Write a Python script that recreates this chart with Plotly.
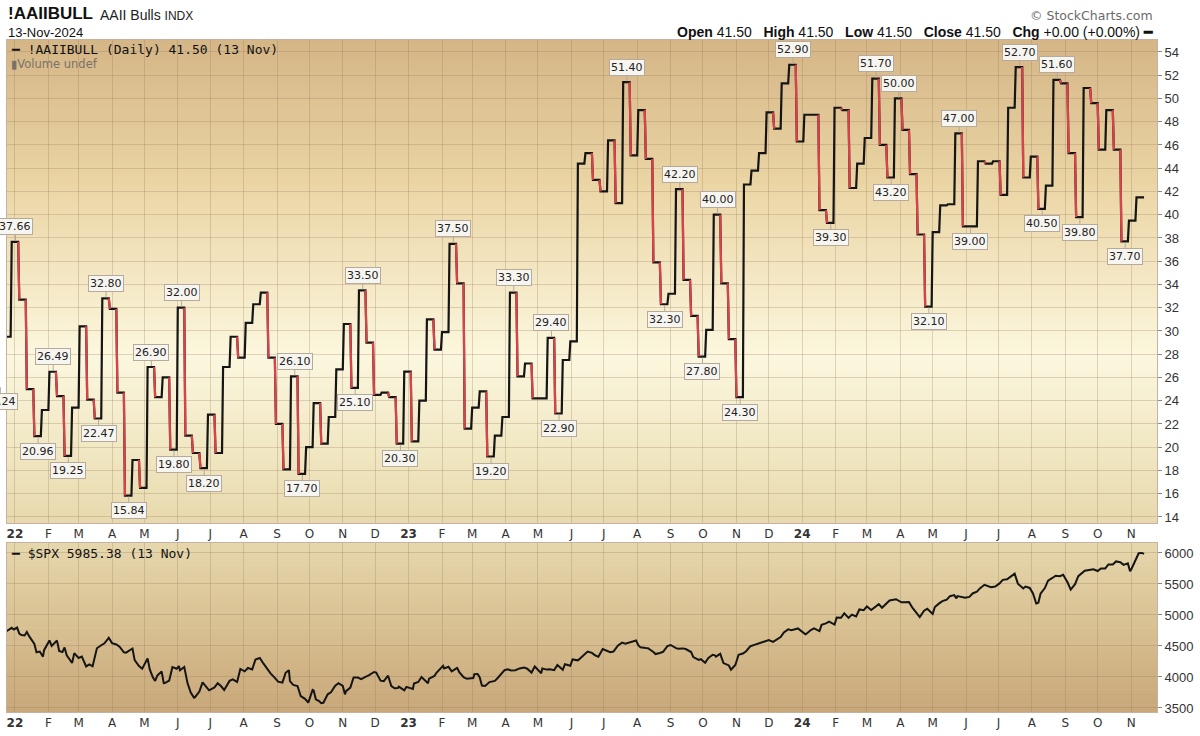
import plotly.graph_objects as go
import pandas as pd

# ---------------- data ----------------
aaii_start = "2021-12-15"          # first weekly reading (weekly, every 7 days)
aaii_last_day = "2024-11-13"
aaii_bull = [
    25.24, 29.5, 37.66, 32.7, 25.0, 20.96, 23.2, 26.49, 24.4, 19.25,
    23.4, 30.4, 24.1, 22.47, 32.80, 31.9, 24.7, 15.84, 18.9, 16.5,
    26.90, 24.3, 26.0, 19.80, 32.00, 21.0, 19.5, 18.20, 22.8, 19.5,
    26.9, 29.5, 27.7, 30.7, 32.3, 33.3, 27.7, 22.0, 18.1, 26.10,
    17.70, 20.0, 23.8, 20.3, 22.6, 26.7, 30.6, 25.10, 33.50, 29.0,
    24.5, 24.7, 24.3, 20.30, 26.5, 20.5, 24.0, 31.0, 28.4, 29.9,
    37.50, 34.1, 21.6, 23.4, 24.8, 19.20, 21.0, 22.6, 33.30, 26.1,
    27.2, 24.2, 24.2, 29.40, 22.90, 27.5, 29.1, 44.4, 45.3, 43.0,
    42.0, 46.4, 41.0, 51.40, 45.1, 49.0, 44.8, 35.9, 32.30, 33.2,
    42.20, 34.4, 31.3, 27.80, 30.1, 40.00, 34.1, 29.3, 24.30, 42.6,
    43.8, 45.3, 48.8, 47.4, 51.3, 52.90, 46.3, 48.6, 48.6, 40.4,
    39.30, 49.2, 49.0, 42.3, 44.4, 46.6, 51.70, 46.0, 43.20, 50.00,
    47.3, 43.5, 38.3, 32.10, 38.5, 40.8, 40.9, 47.00, 39.00, 39.0,
    44.6, 44.4, 44.6, 41.7, 49.2, 52.70, 43.2, 45.0, 40.50, 42.5,
    51.60, 51.3, 45.3, 39.80, 50.9, 49.6, 45.6, 49.0, 45.6, 37.70,
    39.5, 41.50,
]
# 1-based positions of the readings that carry a value label
labeled_points = [1, 3, 6, 8, 10, 14, 15, 18, 21, 24, 25, 28, 40, 41, 48, 49, 54,
                  61, 66, 69, 74, 75, 84, 89, 91, 94, 96, 99, 106, 111, 117, 119,
                  120, 124, 128, 129, 136, 139, 141, 144, 150]

spx_dates = [
    "2021-12-21", "2021-12-23", "2021-12-29", "2021-12-31", "2022-01-03", "2022-01-07",
    "2022-01-12", "2022-01-14", "2022-01-19", "2022-01-21", "2022-01-27", "2022-01-28",
    "2022-02-02", "2022-02-04", "2022-02-09", "2022-02-11", "2022-02-18", "2022-02-23",
    "2022-02-25", "2022-03-04", "2022-03-08", "2022-03-11", "2022-03-18", "2022-03-25",
    "2022-03-29", "2022-04-01", "2022-04-08", "2022-04-14", "2022-04-20", "2022-04-22",
    "2022-04-29", "2022-05-04", "2022-05-06", "2022-05-11", "2022-05-13", "2022-05-19",
    "2022-05-20", "2022-05-27", "2022-06-02", "2022-06-03", "2022-06-10", "2022-06-16",
    "2022-06-17", "2022-06-24", "2022-06-30", "2022-07-08", "2022-07-14", "2022-07-22",
    "2022-07-29", "2022-08-05", "2022-08-12", "2022-08-16", "2022-08-19", "2022-08-26",
    "2022-09-02", "2022-09-06", "2022-09-09", "2022-09-12", "2022-09-13", "2022-09-16",
    "2022-09-23", "2022-09-30", "2022-10-04", "2022-10-07", "2022-10-12", "2022-10-14",
    "2022-10-21", "2022-10-28", "2022-11-03", "2022-11-04", "2022-11-10", "2022-11-11",
    "2022-11-18", "2022-11-25", "2022-11-30", "2022-12-02", "2022-12-09", "2022-12-13",
    "2022-12-16", "2022-12-22", "2022-12-23", "2022-12-28", "2022-12-30",
    "2023-01-05", "2023-01-06", "2023-01-13", "2023-01-19", "2023-01-20", "2023-01-27",
    "2023-02-02", "2023-02-03", "2023-02-10", "2023-02-17", "2023-02-24", "2023-03-02",
    "2023-03-03", "2023-03-06", "2023-03-10", "2023-03-13", "2023-03-17", "2023-03-24",
    "2023-03-31", "2023-04-06", "2023-04-14", "2023-04-21", "2023-04-25", "2023-04-28",
    "2023-05-04", "2023-05-05", "2023-05-12", "2023-05-19", "2023-05-24", "2023-05-26",
    "2023-06-02", "2023-06-09", "2023-06-16", "2023-06-23", "2023-06-30", "2023-07-07",
    "2023-07-14", "2023-07-21", "2023-07-31", "2023-08-04", "2023-08-11", "2023-08-18",
    "2023-08-25", "2023-09-01", "2023-09-08", "2023-09-15", "2023-09-22", "2023-09-27",
    "2023-09-29", "2023-10-06", "2023-10-12", "2023-10-13", "2023-10-20", "2023-10-27",
    "2023-11-03", "2023-11-10", "2023-11-17", "2023-11-24", "2023-12-01", "2023-12-08",
    "2023-12-15", "2023-12-22", "2023-12-28",
    "2024-01-05", "2024-01-12", "2024-01-19", "2024-01-26", "2024-02-02", "2024-02-09",
    "2024-02-13", "2024-02-16", "2024-02-23", "2024-03-01", "2024-03-08", "2024-03-15",
    "2024-03-22", "2024-03-28", "2024-04-05", "2024-04-12", "2024-04-19", "2024-04-26",
    "2024-05-01", "2024-05-03", "2024-05-10", "2024-05-17", "2024-05-23", "2024-05-24",
    "2024-05-31", "2024-06-07", "2024-06-14", "2024-06-21", "2024-06-28", "2024-07-05",
    "2024-07-12", "2024-07-16", "2024-07-19", "2024-07-24", "2024-07-26", "2024-08-02",
    "2024-08-05", "2024-08-09", "2024-08-16", "2024-08-23", "2024-08-30", "2024-09-06",
    "2024-09-13", "2024-09-19", "2024-09-27", "2024-10-04", "2024-10-11", "2024-10-18",
    "2024-10-25", "2024-10-31", "2024-11-01", "2024-11-06", "2024-11-08", "2024-11-11",
    "2024-11-13",
]
spx_close = [
    4649, 4726, 4793, 4766, 4797, 4677,
    4726, 4663, 4533, 4398, 4327, 4432,
    4589, 4500, 4587, 4419, 4349, 4226,
    4385, 4329, 4170, 4204, 4463, 4543,
    4632, 4546, 4488, 4392, 4459, 4272,
    4132, 4300, 4123, 3935, 4023, 3900,
    3901, 4158, 4176, 4109, 3901, 3667,
    3675, 3912, 3785, 3899, 3790, 3962,
    4130, 4145, 4280, 4305, 4228, 4058,
    3924, 3909, 4067, 4110, 3932, 3873,
    3693, 3586, 3791, 3640, 3577, 3583,
    3752, 3901, 3720, 3771, 3956, 3993,
    3965, 4026, 4080, 4072, 3934, 4020,
    3852, 3822, 3845, 3783, 3840,
    3808, 3895, 3999, 3899, 3973, 4071,
    4180, 4136, 4090, 4079, 3970, 3982,
    4046, 4048, 3862, 3855, 3917, 3971,
    4109, 4105, 4138, 4133, 4071, 4169,
    4061, 4136, 4124, 4192, 4115, 4205,
    4282, 4299, 4410, 4348, 4450, 4399,
    4505, 4536, 4589, 4478, 4464, 4370,
    4406, 4516, 4457, 4450, 4320, 4274,
    4288, 4308, 4350, 4327, 4224, 4117,
    4358, 4415, 4514, 4559, 4595, 4604,
    4719, 4755, 4783,
    4697, 4784, 4840, 4891, 4959, 5027,
    4953, 5006, 5089, 5137, 5124, 5117,
    5234, 5254, 5204, 5123, 4967, 5100,
    5018, 5128, 5223, 5303, 5268, 5305,
    5278, 5347, 5432, 5465, 5460, 5567,
    5615, 5667, 5505, 5427, 5459, 5346,
    5186, 5344, 5554, 5634, 5648, 5408,
    5626, 5713, 5738, 5751, 5815, 5864,
    5808, 5705, 5729, 5929, 5996, 6001,
    5985.38,
]
# extra mid-week closes (fill in the daily wiggle)
spx_mid_dates = [
    "2022-01-05", "2022-01-10", "2022-01-24", "2022-02-14", "2022-02-16", "2022-03-01",
    "2022-03-14", "2022-03-22", "2022-04-05", "2022-04-12", "2022-04-26", "2022-05-09",
    "2022-05-17", "2022-05-24", "2022-05-31", "2022-06-07", "2022-06-13", "2022-06-21",
    "2022-07-05", "2022-07-11", "2022-07-19", "2022-07-26", "2022-08-02", "2022-08-09",
    "2022-08-23", "2022-08-30", "2022-09-20", "2022-09-27", "2022-10-05", "2022-10-10",
    "2022-10-18", "2022-10-25", "2022-11-01", "2022-11-08", "2022-11-15", "2022-11-22",
    "2022-12-06", "2022-12-19",
    "2023-01-03", "2023-01-10", "2023-01-25", "2023-02-07", "2023-02-15", "2023-02-21",
    "2023-03-08", "2023-03-22", "2023-04-03", "2023-04-10", "2023-04-18", "2023-05-09",
    "2023-05-16", "2023-05-31", "2023-06-07", "2023-06-13", "2023-06-20", "2023-06-26",
    "2023-07-10", "2023-07-18", "2023-07-26", "2023-08-02", "2023-08-09", "2023-08-16",
    "2023-08-22", "2023-08-29", "2023-09-06", "2023-09-12", "2023-09-20", "2023-10-03",
    "2023-10-10", "2023-10-17", "2023-10-25", "2023-10-31", "2023-11-07", "2023-11-14",
    "2023-12-05", "2023-12-12", "2023-12-19",
    "2024-01-04", "2024-01-09", "2024-01-17", "2024-01-23", "2024-01-31", "2024-02-06",
    "2024-02-20", "2024-02-27", "2024-03-05", "2024-03-12", "2024-03-19", "2024-04-02",
    "2024-04-09", "2024-04-15", "2024-04-23", "2024-05-07", "2024-05-14", "2024-05-21",
    "2024-06-04", "2024-06-11", "2024-06-18", "2024-06-24", "2024-07-02", "2024-07-09",
    "2024-07-30", "2024-08-07", "2024-08-13", "2024-08-20", "2024-08-27", "2024-09-03",
    "2024-09-10", "2024-09-24", "2024-10-01", "2024-10-08", "2024-10-15", "2024-10-22",
    "2024-10-29",
]
spx_mid_close = [
    4700, 4670, 4410, 4401, 4475, 4306,
    4173, 4512, 4525, 4397, 4175, 3991,
    4088, 3941, 4132, 4160, 3750, 3765,
    3831, 3854, 3937, 3921, 4091, 4122,
    4128, 3986, 3855, 3647, 3783, 3612,
    3720, 3859, 3856, 3828, 3991, 4003,
    3941, 3817,
    3824, 3919, 4016, 4164, 4147, 3997,
    3992, 3937, 4124, 4109, 4154, 4119,
    4110, 4180, 4268, 4369, 4389, 4328,
    4410, 4554, 4566, 4513, 4467, 4404,
    4388, 4497, 4465, 4461, 4402, 4229,
    4358, 4373, 4186, 4194, 4378, 4496,
    4567, 4643, 4768,
    4688, 4756, 4739, 4864, 4846, 4954,
    4975, 5078, 5079, 5175, 5178, 5205,
    5209, 5061, 5070, 5187, 5247, 5321,
    5291, 5375, 5487, 5448, 5509, 5577,
    5436, 5199, 5434, 5597, 5625, 5528,
    5496, 5732, 5709, 5751, 5815, 5851,
    5832,
]

month_letters = ["J", "F", "M", "A", "M", "J", "J", "A", "S", "O", "N", "D"]
aaii_ticks = list(range(14, 55, 2))
spx_ticks = [3500, 4000, 4500, 5000, 5500, 6000]

# ---------------- geometry helpers ----------------
W, H = 1200, 736
ML, MR, MT, MB = 6, 41, 40, 24
PW, PH = W - ML - MR, H - MT - MB
X_RANGE = [pd.Timestamp("2021-12-24 15:00"), pd.Timestamp("2024-11-25")]
PX_PER_DAY = PW / ((X_RANGE[1] - X_RANGE[0]).total_seconds() / 86400)


def px(x):
    return (x - ML) / PW


def py(y):
    return (H - MB - y) / PH


TOP_DOM = [py(523), 1.0]
BOT_DOM = [0.0, py(543)]

RED = "#d8434b"
BLACK = "#151515"
DAY = pd.Timedelta(days=1)

# ---------------- AAII step path ----------------
dates = pd.date_range(aaii_start, periods=len(aaii_bull), freq="7D")
n = len(aaii_bull)
path_x, path_y = [], []
red_x, red_y = [], []
for i, v in enumerate(aaii_bull):
    end = dates[i + 1] - DAY if i + 1 < n else pd.Timestamp(aaii_last_day)
    path_x += [dates[i], end]
    path_y += [v, v]
    if i + 1 < n and aaii_bull[i + 1] < v:
        red_x += [end, dates[i + 1], None]
        red_y += [v, aaii_bull[i + 1], None]

# ---------------- SPX series (merge weekly + mid-week) ----------------
spx = pd.Series(spx_close + spx_mid_close,
                index=pd.to_datetime(spx_dates + spx_mid_dates)).sort_index()

fig = go.Figure()


def lerp_color(stops, t):
    for (t0, c0), (t1, c1) in zip(stops[:-1], stops[1:]):
        if t0 <= t <= t1:
            f = (t - t0) / (t1 - t0) if t1 > t0 else 0
            c = [round(a + (b - a) * f) for a, b in zip(c0, c1)]
            return "rgb(%d,%d,%d)" % tuple(c)
    return "rgb(%d,%d,%d)" % stops[-1][1]


top_stops = [(0.0, (212, 181, 134)), (0.3, (235, 213, 165)), (0.66, (251, 247, 222)),
             (1.0, (232, 218, 173))]
bot_stops = [(0.0, (230, 215, 172)), (0.5, (216, 192, 146)), (1.0, (200, 167, 121))]
NB = 90
for stops, xr, yr in [(top_stops, "x domain", "y domain"), (bot_stops, "x2 domain", "y2 domain")]:
    for k in range(NB):
        t = (k + 0.5) / NB
        fig.add_shape(type="rect", xref=xr, yref=yr, x0=0, x1=1,
                      y0=1 - (k + 1) / NB - 0.002, y1=1 - k / NB + 0.002,
                      fillcolor=lerp_color(stops, t), line_width=0, layer="below")

fig.add_trace(go.Scatter(x=path_x, y=path_y, mode="lines",
                         line=dict(color=BLACK, width=2.2), xaxis="x", yaxis="y",
                         hoverinfo="skip", showlegend=False))
fig.add_trace(go.Scatter(x=red_x, y=red_y, mode="lines",
                         line=dict(color=RED, width=2.2), xaxis="x", yaxis="y",
                         hoverinfo="skip", showlegend=False, connectgaps=False))

fig.add_trace(go.Scatter(x=spx.index, y=spx.values, mode="lines",
                         line=dict(color=BLACK, width=2), xaxis="x2", yaxis="y2",
                         hoverinfo="skip", showlegend=False))

# value labels
annotations = []
for p in labeled_points:
    i = p - 1
    v = aaii_bull[i]
    prev_v = aaii_bull[i - 1] if i > 0 else None
    next_v = aaii_bull[i + 1] if i + 1 < n else None
    neigh = [u for u in (prev_v, next_v) if u is not None]
    is_peak = all(v >= u for u in neigh)
    reps = 0
    while i + reps + 1 < n and aaii_bull[i + reps + 1] == v:
        reps += 1
    xc = dates[i] + pd.Timedelta(days=3.5 * (1 + reps))
    shift = 0
    lo = X_RANGE[0] + pd.Timedelta(days=0.5)
    if xc < lo:
        shift = -((lo - xc).total_seconds() / 86400) * PX_PER_DAY
        xc = lo
    annotations.append(dict(
        x=xc, y=v, xref="x", yref="y", text=f"{v:.2f}", showarrow=True,
        ax=0, ay=-15 if is_peak else 15, arrowhead=0, arrowwidth=1,
        arrowcolor="#b5aa9c", standoff=1, xshift=shift,
        bgcolor="#f7f5f0", bordercolor="#b5aa9c", borderwidth=1, borderpad=1,
        font=dict(family="DejaVu Sans", size=11, color="#222")))

SP = "\u00a0"
close_txt = f"{aaii_bull[-1]:.2f}"
annotations += [
    dict(x=px(5), y=py(14), xref="paper", yref="paper", xanchor="left", yanchor="middle",
         showarrow=False, text="<b>!AAIIBULL</b>",
         font=dict(family="Liberation Sans", size=17, color="#111")),
    dict(x=px(97), y=py(15), xref="paper", yref="paper", xanchor="left", yanchor="middle",
         showarrow=False, text="AAII Bulls <span style='font-size:12px'>INDX</span>",
         font=dict(family="Liberation Sans", size=14, color="#222")),
    dict(x=px(5), y=py(32), xref="paper", yref="paper", xanchor="left", yanchor="middle",
         showarrow=False, text="13-Nov-2024",
         font=dict(family="Liberation Sans", size=13, color="#111")),
    dict(x=px(1157), y=py(16), xref="paper", yref="paper", xanchor="right", yanchor="middle",
         showarrow=False, text="© StockCharts.com",
         font=dict(family="DejaVu Sans", size=12.5, color="#6a6a6a")),
    dict(x=px(1157), y=py(32), xref="paper", yref="paper", xanchor="right", yanchor="middle",
         showarrow=False,
         text=(f"<b>Open</b> {close_txt}{SP*3}<b>High</b> {close_txt}{SP*3}"
               f"<b>Low</b> {close_txt}{SP*3}<b>Close</b> {close_txt}{SP*3}"
               f"<b>Chg</b> +0.00 (+0.00%) <b>━</b>"),
         font=dict(family="Liberation Sans", size=14, color="#111")),
    dict(x=px(8), y=py(50), xref="paper", yref="paper", xanchor="left", yanchor="middle",
         showarrow=False, text=f"━ !AAIIBULL (Daily) {close_txt} (13 Nov)",
         font=dict(family="DejaVu Sans Mono", size=13, color="#111")),
    dict(x=px(8), y=py(64), xref="paper", yref="paper", xanchor="left", yanchor="middle",
         showarrow=False, text="▮Volume undef",
         font=dict(family="DejaVu Sans", size=11.5, color="#7a7268")),
    dict(x=px(8), y=py(553), xref="paper", yref="paper", xanchor="left", yanchor="middle",
         showarrow=False, text=f"━ $SPX {spx_close[-1]:.2f} (13 Nov)",
         font=dict(family="DejaVu Sans Mono", size=13, color="#111")),
]

month_ticks = pd.date_range("2022-01-01", aaii_last_day, freq="MS")
month_text = [f"<b>{d.strftime('%y')}</b>" if d.month == 1 else month_letters[d.month - 1]
              for d in month_ticks]

GRID = "rgba(150,118,85,0.28)"
FRAME = "#c5b2a0"
xcommon = dict(range=X_RANGE, tickmode="array", tickvals=month_ticks, ticktext=month_text,
               showgrid=True, gridcolor=GRID, gridwidth=1, showline=True, mirror=True,
               linecolor=FRAME, linewidth=1, ticks="", zeroline=False,
               tickfont=dict(family="DejaVu Sans", size=12, color="#333"))

fig.update_layout(
    width=W, height=H,
    margin=dict(l=ML, r=MR, t=MT, b=MB),
    paper_bgcolor="white", plot_bgcolor="rgba(0,0,0,0)",
    showlegend=False,
    xaxis=dict(domain=[0, 1], anchor="y", **xcommon),
    xaxis2=dict(domain=[0, 1], anchor="y2", matches="x", **xcommon),
    yaxis=dict(domain=TOP_DOM, anchor="x", side="right", range=[13.48, 55.03],
               tickvals=aaii_ticks, showgrid=True, gridcolor=GRID, zeroline=False,
               showline=True, mirror=True, linecolor=FRAME, ticks="outside", ticklen=4,
               tickcolor="#888", tickfont=dict(family="Liberation Sans", size=13, color="#333")),
    yaxis2=dict(domain=BOT_DOM, anchor="x2", side="right", range=[3435, 6161],
                tickvals=spx_ticks, showgrid=True, gridcolor=GRID, zeroline=False,
                showline=True, mirror=True, linecolor=FRAME, ticks="outside", ticklen=4,
                tickcolor="#888", tickfont=dict(family="Liberation Sans", size=13, color="#333")),
    annotations=annotations,
)

fig.write_html("out.html")
